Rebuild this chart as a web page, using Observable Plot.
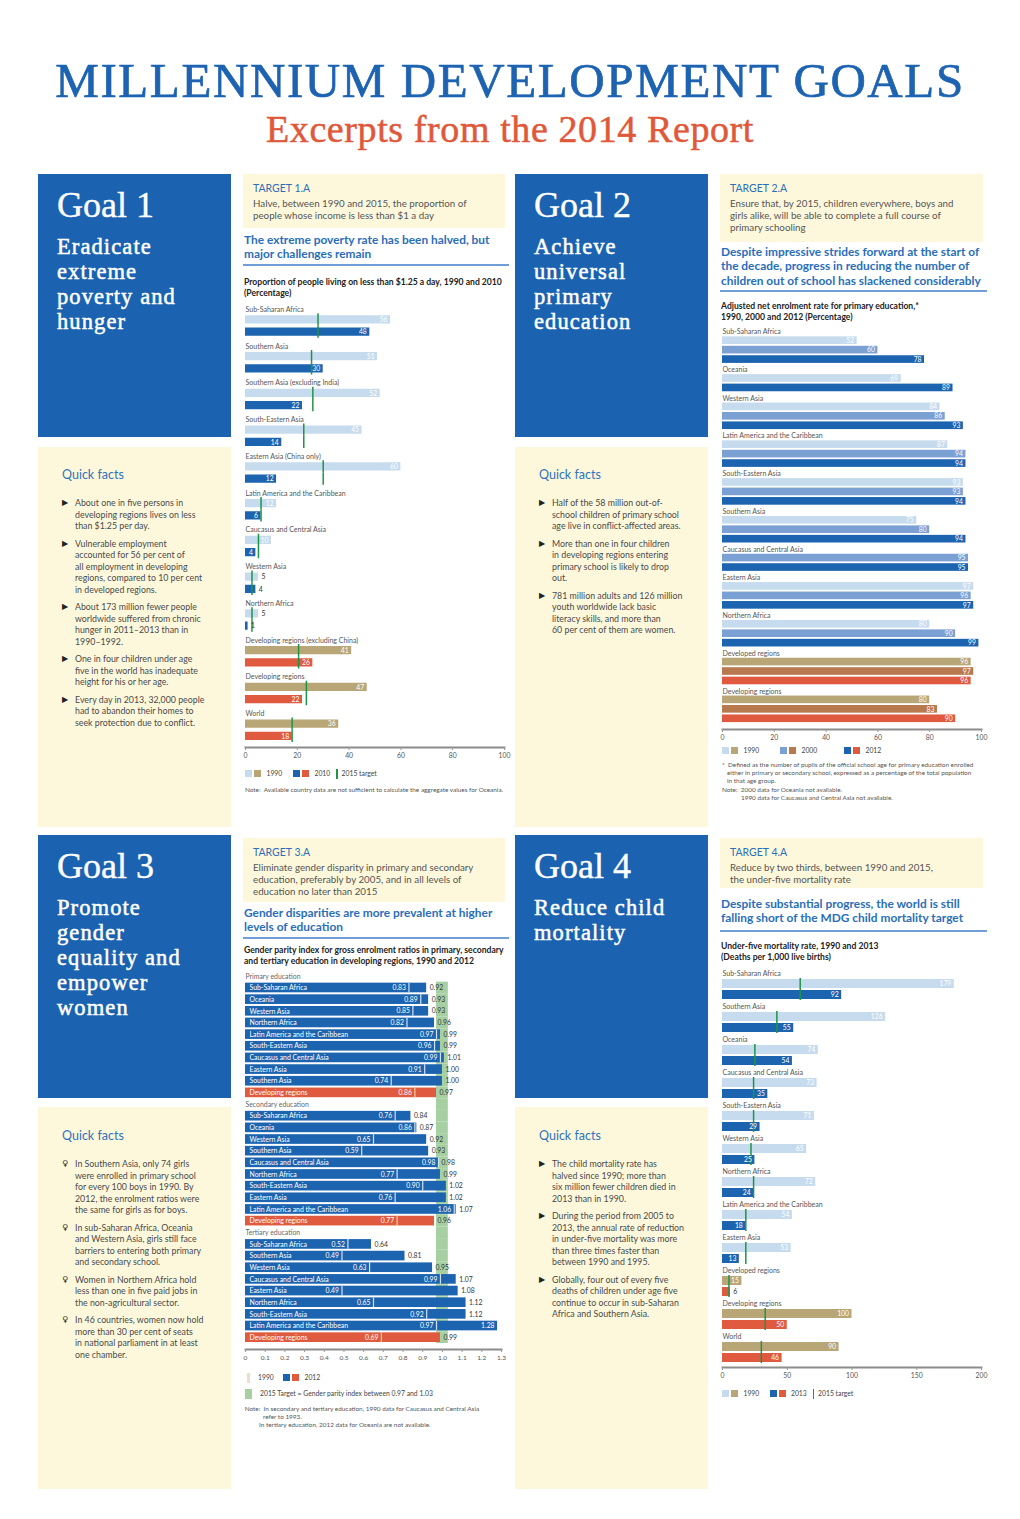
<!DOCTYPE html>
<html><head><meta charset="utf-8">
<script src="https://cdn.jsdelivr.net/npm/d3@7"></script>
<script src="https://cdn.jsdelivr.net/npm/@observablehq/plot@0.6"></script>
<style>
body{margin:0;background:#fff;}
#page{position:relative;width:1020px;height:1519px;overflow:hidden;font-family:Lato,"Open Sans",sans-serif;background:#fff;}
.box{position:absolute;}
.t{position:absolute;white-space:nowrap;}
.qf p{margin:0 0 6px 0;position:relative;padding-left:13px;}
.qf p span.b{position:absolute;left:0;top:0;font-family:"DejaVu Sans",sans-serif;color:#222;font-size:8px;}
.sq{display:inline-block;width:7px;height:7px;vertical-align:middle;margin-right:2px;}
</style></head>
<body><div id="page"></div>
<script>
// ---------------- DATA ----------------
// Goal 1: proportion of people living on less than $1.25 a day
const g1Regions = ["Sub-Saharan Africa","Southern Asia","Southern Asia (excluding India)","South-Eastern Asia","Eastern Asia (China only)","Latin America and the Caribbean","Caucasus and Central Asia","Western Asia","Northern Africa","Developing regions (excluding China)","Developing regions","World"];
const g1Values1990 = [56,51,52,45,60,12,10,5,5,41,47,36];
const g1Values2010 = [48,30,22,14,12,6,4,4,1,26,22,18];
const g1Targets = [28,25.5,26,22.5,30,6,5,2.5,2.5,20.5,23.5,18];
const g1Aggregates = ["Developing regions (excluding China)","Developing regions","World"];
const g1Ticks = [0,20,40,60,80,100];

// Goal 2: adjusted net enrolment rate for primary education
const g2Regions = ["Sub-Saharan Africa","Oceania","Western Asia","Latin America and the Caribbean","South-Eastern Asia","Southern Asia","Caucasus and Central Asia","Eastern Asia","Northern Africa","Developed regions","Developing regions"];
const g2Values1990 = [52,69,84,87,93,75,null,97,80,96,80];
const g2Values2000 = [60,null,86,94,93,80,95,96,90,97,83];
const g2Values2012 = [78,89,93,94,94,94,95,97,99,96,90];
const g2Aggregates = ["Developed regions","Developing regions"];
const g2Ticks = [0,20,40,60,80,100];

// Goal 3: gender parity index
const g3Sections = ["Primary education","Secondary education","Tertiary education"];
const g3PrimaryRegions = ["Sub-Saharan Africa","Oceania","Western Asia","Northern Africa","Latin America and the Caribbean","South-Eastern Asia","Caucasus and Central Asia","Eastern Asia","Southern Asia","Developing regions"];
const g3Primary1990 = [0.83,0.89,0.85,0.82,0.97,0.96,0.99,0.91,0.74,0.86];
const g3Primary2012 = [0.92,0.93,0.93,0.96,0.99,0.99,1.01,1.00,1.00,0.97];
const g3SecondaryRegions = ["Sub-Saharan Africa","Oceania","Western Asia","Southern Asia","Caucasus and Central Asia","Northern Africa","South-Eastern Asia","Eastern Asia","Latin America and the Caribbean","Developing regions"];
const g3Secondary1990 = [0.76,0.86,0.65,0.59,0.98,0.77,0.90,0.76,1.06,0.77];
const g3Secondary2012 = [0.84,0.87,0.92,0.93,0.98,0.99,1.02,1.02,1.07,0.96];
const g3TertiaryRegions = ["Sub-Saharan Africa","Southern Asia","Western Asia","Caucasus and Central Asia","Eastern Asia","Northern Africa","South-Eastern Asia","Latin America and the Caribbean","Developing regions"];
const g3Tertiary1990 = [0.52,0.49,0.63,0.99,0.49,0.65,0.92,0.97,0.69];
const g3Tertiary2012 = [0.64,0.81,0.95,1.07,1.08,1.12,1.12,1.28,0.99];
const g3TargetBand = [0.97,1.03];
const g3Ticks = [0,0.1,0.2,0.3,0.4,0.5,0.6,0.7,0.8,0.9,1.0,1.1,1.2,1.3];

// Goal 4: under-five mortality rate
const g4Regions = ["Sub-Saharan Africa","Southern Asia","Oceania","Caucasus and Central Asia","South-Eastern Asia","Western Asia","Northern Africa","Latin America and the Caribbean","Eastern Asia","Developed regions","Developing regions","World"];
const g4Values1990 = [179,126,74,73,71,65,72,54,53,15,100,90];
const g4Values2013 = [92,55,54,35,29,25,24,18,13,6,50,46];
const g4Targets = [60,42,25,24,24,22,24,18,18,5,33,30];
const g4Aggregates = ["Developed regions","Developing regions","World"];
const g4Ticks = [0,50,100,150,200];

// ---------------- STYLE ----------------
const C = {light:"#c6dcee", mid:"#7ba0d4", dark:"#1c64b0", tan:"#b9a677", brown:"#b9794f", red:"#e05a3f", green:"#1e9447", band:"#a6d0a1", blueBox:"#1b63b0", cream:"#fdf8dc", head:"#2a6ebb"};
const page = document.getElementById("page");

function box(x,y,w,h,color){const d=document.createElement("div");d.className="box";Object.assign(d.style,{left:x+"px",top:y+"px",width:w+"px",height:h+"px",background:color});page.appendChild(d);return d;}
function txt(x,y,html,o){const d=document.createElement("div");d.className="t";const lh=o.lh||o.size*1.25;Object.assign(d.style,{left:x+"px",top:(y-lh/2)+"px",fontSize:o.size+"px",lineHeight:lh+"px",color:o.color||"#444",fontWeight:o.weight||400,fontFamily:o.font||'Lato,"Open Sans",sans-serif',letterSpacing:(o.ls||0)+"px"});if(o.stroke)d.style.webkitTextStroke=o.stroke;if(o.center){d.style.left="0";d.style.width="1020px";d.style.textAlign="center";}d.innerHTML=html;page.appendChild(d);return d;}
function place(el,x,y){const d=document.createElement("div");d.className="box";d.style.left=x+"px";d.style.top=y+"px";d.style.lineHeight="0";d.appendChild(el);page.appendChild(d);}
const serif = '"Liberation Serif","DejaVu Serif",serif';

// ---------------- HEADER ----------------
txt(0,80.5,"MILLENNIUM DEVELOPMENT GOALS",{size:49,color:"#1d63b1",font:serif,center:true,lh:44,ls:1.6,stroke:"0.7px #1d63b1"});
txt(0,128.5,"Excerpts from the 2014 Report",{size:38,color:"#e0583a",font:serif,center:true,lh:36,ls:0.6,stroke:"0.5px #e0583a"});

// ---------------- PANELS ----------------
function goalPanel(x,y,title,lines,qfY,qfTop,qfBottom,bullets,bulletChar){
  box(x,y,193,263,C.blueBox);
  txt(x+19,y+31,title,{size:36,color:"#fff",font:serif,lh:36,stroke:"0.4px #fff"});
  txt(x+19,y+72,lines.join("<br>"),{size:22.5,color:"#fff",font:serif,lh:25,ls:1.1,stroke:"0.5px #fff"});
  box(x,qfTop,193,qfBottom-qfTop,C.cream);
  txt(x+24,qfY,"Quick facts",{size:12.5,color:"#2f72bd",lh:14});
  const d=document.createElement("div");d.className="box qf";
  Object.assign(d.style,{left:(x+24)+"px",top:(qfY+28-5.75)+"px",fontSize:"8.8px",lineHeight:"11.5px",color:"#4a4a4a",whiteSpace:"nowrap"});
  d.innerHTML=bullets.map(b=>`<p><span class="b">${bulletChar}</span>${b}</p>`).join("");
  page.appendChild(d);
}
goalPanel(38,174,"Goal 1",["Eradicate","extreme","poverty and","hunger"],475,447,827,[
 "About one in five persons in<br>developing regions lives on less<br>than $1.25 per day.",
 "Vulnerable employment<br>accounted for 56 per cent of<br>all employment in developing<br>regions, compared to 10 per cent<br>in developed regions.",
 "About 173 million fewer people<br>worldwide suffered from chronic<br>hunger in 2011–2013 than in<br>1990–1992.",
 "One in four children under age<br>five in the world has inadequate<br>height for his or her age.",
 "Every day in 2013, 32,000 people<br>had to abandon their homes to<br>seek protection due to conflict."],"▶");
goalPanel(515,174,"Goal 2",["Achieve","universal","primary","education"],475,447,827,[
 "Half of the 58 million out-of-<br>school children of primary school<br>age live in conflict-affected areas.",
 "More than one in four children<br>in developing regions entering<br>primary school is likely to drop<br>out.",
 "781 million adults and 126 million<br>youth worldwide lack basic<br>literacy skills, and more than<br>60 per cent of them are women."],"▶");
goalPanel(38,835,"Goal 3",["Promote","gender","equality and","empower","women"],1136,1107,1489,[
 "In Southern Asia, only 74 girls<br>were enrolled in primary school<br>for every 100 boys in 1990. By<br>2012, the enrolment ratios were<br>the same for girls as for boys.",
 "In sub-Saharan Africa, Oceania<br>and Western Asia, girls still face<br>barriers to entering both primary<br>and secondary school.",
 "Women in Northern Africa hold<br>less than one in five paid jobs in<br>the non-agricultural sector.",
 "In 46 countries, women now hold<br>more than 30 per cent of seats<br>in national parliament in at least<br>one chamber."],"♀");
goalPanel(515,835,"Goal 4",["Reduce child","mortality"],1136,1107,1489,[
 "The child mortality rate has<br>halved since 1990; more than<br>six million fewer children died in<br>2013 than in 1990.",
 "During the period from 2005 to<br>2013, the annual rate of reduction<br>in under-five mortality was more<br>than three times faster than<br>between 1990 and 1995.",
 "Globally, four out of every five<br>deaths of children under age five<br>continue to occur in sub-Saharan<br>Africa and Southern Asia."],"▶");

// ---------------- TARGET BOXES ----------------
function target(x,y,w,h,label,lines,headY,head,ruleY,titleY,title){
  box(x,y,w,h,C.cream);
  txt(x+10,y+13.5,label,{size:10.5,color:"#2c6fb8",lh:12});
  txt(x+10,y+29,lines.join("<br>"),{size:9.75,color:"#555",lh:12.3});
  txt(x+1,headY,head.join("<br>"),{size:11.9,color:C.head,weight:700,lh:14.5});
  box(x,ruleY,w+4,1.5,"#6f9fd6");
  txt(x+1,titleY,title.join("<br>"),{size:8.6,color:"#222",weight:700,lh:11});
}
target(243,174,262,54,"TARGET 1.A",["Halve, between 1990 and 2015, the proportion of","people whose income is less than $1 a day"],240,["The extreme poverty rate has been halved, but","major challenges remain"],264,282,["Proportion of people living on less than $1.25 a day, 1990 and 2010","(Percentage)"]);
target(720,174,263,68,"TARGET 2.A",["Ensure that, by 2015, children everywhere, boys and","girls alike, will be able to complete a full course of","primary schooling"],252,["Despite impressive strides forward at the start of","the decade, progress in reducing the number of","children out of school has slackened considerably"],290,306,["Adjusted net enrolment rate for primary education,*","1990, 2000 and 2012 (Percentage)"]);
target(243,838,262,64,"TARGET 3.A",["Eliminate gender disparity in primary and secondary","education, preferably by 2005, and in all levels of","education no later than 2015"],913,["Gender disparities are more prevalent at higher","levels of education"],937,950,["Gender parity index for gross enrolment ratios in primary, secondary","and tertiary education in developing regions, 1990 and 2012"]);
target(720,838,263,50,"TARGET 4.A",["Reduce by two thirds, between 1990 and 2015,","the under-five mortality rate"],904,["Despite substantial progress, the world is still","falling short of the MDG child mortality target"],930,946,["Under-five mortality rate, 1990 and 2013","(Deaths per 1,000 live births)"]);

// ---------------- CHART HELPERS ----------------
const plotStyle = {fontFamily:'Lato,"Open Sans",sans-serif',fontSize:"7px",color:"#555",background:"transparent",overflow:"visible"};

function pairedChart(o){
  const rows=[];
  o.regions.forEach((r,i)=>{
    const agg=o.aggregates.includes(r);
    rows.push({key:i+"L",kind:"label",region:r});
    rows.push({key:i+"a",kind:"bar",value:o.v1[i],g1:o.v1[i],target:o.targets[i],color:agg?C.tan:C.light});
    rows.push({key:i+"b",kind:"bar",value:o.v2[i],g1:o.v1[i],target:o.targets[i],color:agg?C.red:C.dark});
  });
  const bars=rows.filter(d=>d.kind==="bar"), labels=rows.filter(d=>d.kind==="label");
  const k=o.pxPerUnit;
  const outside=d=>d.value*k<9||d.g1*k<18;
  return Plot.plot({
    width:o.width,height:o.height,marginTop:0,marginBottom:o.marginBottom,marginLeft:o.marginLeft,marginRight:o.marginRight,
    style:plotStyle,
    color:{type:"identity"},
    x:{domain:o.domain,label:null},
    y:{domain:rows.map(d=>d.key),axis:null,padding:0,round:false,insetBottom:o.insetBottom},
    marks:[
      Plot.barX(bars,{x:"value",y:"key",fill:"color",insetTop:o.barInset,insetBottom:o.barInset}),
      Plot.tickX(bars,{x:"target",y:"key",stroke:C.green,strokeWidth:1.5}),
      Plot.text(labels,{x:0,y:"key",text:"region",textAnchor:"start",dy:o.labelDy,fill:"#555",fontSize:7}),
      Plot.text(bars.filter(d=>!outside(d)),{x:"value",y:"key",text:"value",textAnchor:"end",dx:-3,fill:"#fff",fontSize:6.8}),
      Plot.text(bars.filter(outside),{x:"value",y:"key",text:"value",textAnchor:"start",dx:3,fill:"#333",fontSize:6.8}),
      Plot.frame({anchor:"bottom",stroke:"#8c8c8c",strokeWidth:2}),
      Plot.axisX({ticks:o.ticks,tickSize:3,tickPadding:3,fontSize:6.8,stroke:"#999",label:null})
    ]
  });
}

// Goal 1 chart
place(pairedChart({regions:g1Regions,v1:g1Values1990,v2:g1Values2010,targets:g1Targets,aggregates:g1Aggregates,
  domain:[0,100],ticks:g1Ticks,width:270,height:466,marginBottom:20,marginLeft:2,marginRight:9,insetBottom:5,barInset:2,labelDy:2,pxPerUnit:2.59}),243,301);

// Goal 4 chart
place(pairedChart({regions:g4Regions,v1:g4Values1990,v2:g4Values2013,targets:g4Targets,aggregates:g4Aggregates,
  domain:[0,200],ticks:g4Ticks,width:270,height:418,marginBottom:18,marginLeft:4,marginRight:7,insetBottom:4,barInset:1,labelDy:0.5,pxPerUnit:1.293}),718,967);

// Goal 2 chart
(function(){
  const rows=[];
  g2Regions.forEach((r,i)=>{
    const agg=g2Aggregates.includes(r);
    rows.push({key:i+"L",kind:"label",region:r});
    [[g2Values1990[i],agg?C.tan:C.light,"a"],[g2Values2000[i],agg?C.brown:C.mid,"b"],[g2Values2012[i],agg?C.red:C.dark,"c"]].forEach(([v,c,s])=>{
      if(v!=null) rows.push({key:i+s,kind:"bar",value:v,color:c});
    });
  });
  const bars=rows.filter(d=>d.kind==="bar"), labels=rows.filter(d=>d.kind==="label");
  const p=Plot.plot({
    width:270,height:421,marginTop:0,marginBottom:18,marginLeft:4,marginRight:7,style:plotStyle,
    color:{type:"identity"},
    x:{domain:[0,100],label:null},
    y:{domain:rows.map(d=>d.key),axis:null,padding:0,round:false,insetBottom:6},
    marks:[
      Plot.barX(bars,{x:"value",y:"key",fill:"color",insetTop:0.9,insetBottom:0.9}),
      Plot.text(labels,{x:0,y:"key",text:"region",textAnchor:"start",dy:1,fill:"#555",fontSize:7}),
      Plot.text(bars,{x:"value",y:"key",text:"value",textAnchor:"end",dx:-3,fill:"#fff",fontSize:6.8}),
      Plot.frame({anchor:"bottom",stroke:"#8c8c8c",strokeWidth:2}),
      Plot.axisX({ticks:g2Ticks,tickSize:3,tickPadding:3,fontSize:6.8,stroke:"#999",label:null})
    ]
  });
  place(p,718,326);
})();

// Goal 3 chart
(function(){
  const rows=[];
  const sets=[[g3PrimaryRegions,g3Primary1990,g3Primary2012],[g3SecondaryRegions,g3Secondary1990,g3Secondary2012],[g3TertiaryRegions,g3Tertiary1990,g3Tertiary2012]];
  sets.forEach(([regs,a,b],s)=>{
    rows.push({key:"h"+s,kind:"head",text:g3Sections[s]});
    regs.forEach((r,i)=>rows.push({key:s+"-"+i,kind:"bar",region:r,v1990:a[i],v2012:b[i],agg:r==="Developing regions"}));
  });
  const bars=rows.filter(d=>d.kind==="bar"), heads=rows.filter(d=>d.kind==="head");
  const f=d3.format(".2f");
  const p=Plot.plot({
    width:270,height:397,marginTop:0,marginBottom:18,marginLeft:2,marginRight:12,style:plotStyle,
    x:{domain:[0,1.3],label:null},
    y:{domain:rows.map(d=>d.key),axis:null,padding:0,round:false,insetBottom:6},
    marks:[
      Plot.barX(rows.slice(1),{x1:g3TargetBand[0],x2:g3TargetBand[1],y:"key",fill:C.band}),
      Plot.barX(bars,{x:"v2012",y:"key",fill:d=>d.agg?C.red:C.dark,insetTop:1,insetBottom:1}),
      Plot.tickX(bars,{x:"v1990",y:"key",stroke:d=>d.agg?"#ecd2a8":"#d3e2f1",strokeWidth:1.2,insetTop:1,insetBottom:1}),
      Plot.text(heads,{x:0,y:"key",text:"text",textAnchor:"start",fill:"#666",fontSize:6.9,dy:0.5}),
      Plot.text(bars,{x:0,y:"key",text:"region",textAnchor:"start",dx:4,fill:"#fff",fontSize:6.9}),
      Plot.text(bars,{x:"v1990",y:"key",text:d=>f(d.v1990),textAnchor:"end",dx:-3,fill:"#fff",fontSize:6.8}),
      Plot.text(bars.filter(d=>d.v2012<=1.2),{x:"v2012",y:"key",text:d=>f(d.v2012),textAnchor:"start",dx:3,fill:"#333",fontSize:6.8}),
      Plot.text(bars.filter(d=>d.v2012>1.2),{x:"v2012",y:"key",text:d=>f(d.v2012),textAnchor:"end",dx:-3,fill:"#fff",fontSize:6.8}),
      Plot.frame({anchor:"bottom",stroke:"#8c8c8c",strokeWidth:2}),
      Plot.axisX({ticks:g3Ticks,tickFormat:d=>d===0?"0":d.toFixed(1),tickSize:3,tickPadding:3,fontSize:6.5,stroke:"#999",label:null})
    ]
  });
  place(p,243,970);
})();

// ---------------- LEGENDS & NOTES ----------------
function sq(c){return `<span class="sq" style="background:${c}"></span>`;}
function gl(){return `<span style="display:inline-block;width:1.6px;height:10px;background:${C.green};vertical-align:middle;margin-right:4px"></span>`;}
const lg={size:6.8,color:"#444",lh:10};
const nt={size:6.4,color:"#555",lh:8.3};
txt(245,772.5,`${sq(C.light)}${sq(C.tan)}&nbsp;&nbsp;1990`,lg);
txt(293,772.5,`${sq(C.dark)}${sq(C.red)}&nbsp;&nbsp;2010`,lg);
txt(336,772.5,`${gl()}2015 target`,lg);
txt(245,790,"Note:&nbsp;&nbsp;Available country data are not sufficient to calculate the aggregate values for Oceania.",nt);

txt(722,749.5,`${sq(C.light)}${sq(C.tan)}&nbsp;&nbsp;1990`,lg);
txt(780,749.5,`${sq(C.mid)}${sq(C.brown)}&nbsp;&nbsp;2000`,lg);
txt(844,749.5,`${sq(C.dark)}${sq(C.red)}&nbsp;&nbsp;2012`,lg);
txt(722,765,"*&nbsp;&nbsp;Defined as the number of pupils of the official school age for primary education enrolled",nt);
txt(727,773.3,"either in primary or secondary school, expressed as a percentage of the total population<br>in that age group.",nt);
txt(722,790,"Note:&nbsp;&nbsp;2000 data for Oceania not available.",nt);
txt(741,798.3,"1990 data for Caucasus and Central Asia not available.",nt);

txt(247,1376.7,`<span style="display:inline-block;width:3px;height:10px;background:#e8e0c8;vertical-align:middle;margin-right:8px"></span>1990`,lg);
txt(283,1376.7,`${sq(C.dark)}${sq(C.red)}&nbsp;&nbsp;2012`,lg);
txt(245,1392.5,`<span style="display:inline-block;width:7px;height:10px;background:${C.band};vertical-align:middle;margin-right:8px"></span>2015 Target = Gender parity index between 0.97 and 1.03`,lg);
txt(244.7,1409.3,"Note:&nbsp;&nbsp;In secondary and tertiary education, 1990 data for Caucasus and Central Asia",nt);
txt(263,1417.3,"refer to 1993.",nt);
txt(259,1425.3,"In tertiary education, 2012 data for Oceania are not available.",nt);

txt(722,1392.7,`${sq(C.light)}${sq(C.tan)}&nbsp;&nbsp;1990`,lg);
txt(769.5,1392.7,`${sq(C.dark)}${sq(C.red)}&nbsp;&nbsp;2013`,lg);
txt(812.5,1392.7,`${gl()}2015 target`,lg);
</script></body></html>
